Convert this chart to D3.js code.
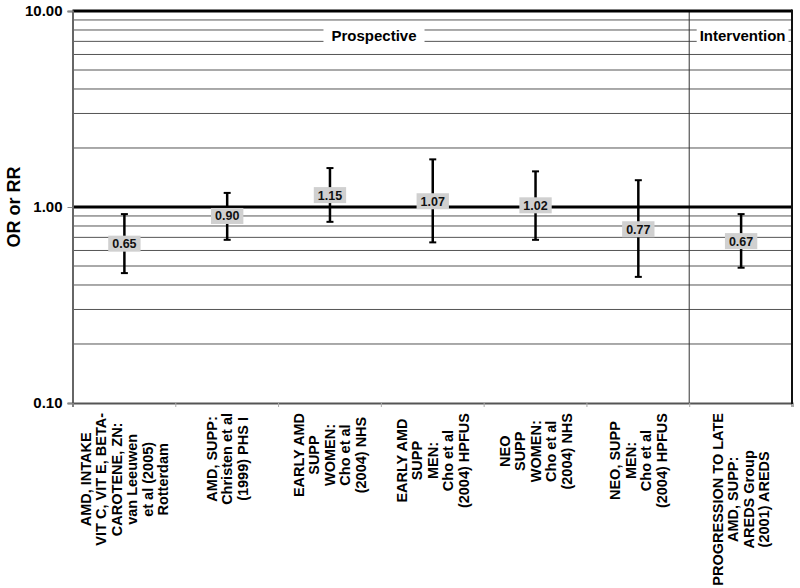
<!DOCTYPE html>
<html><head><meta charset="utf-8">
<script src="https://cdn.jsdelivr.net/npm/d3@7"></script>
<style>body{margin:0;background:#fff}svg{display:block}text{font-family:Arial,"Liberation Sans",sans-serif;font-weight:bold}</style>
</head><body><svg id="c" width="800" height="588"></svg>
<script>
const categories = [
  ["AMD, INTAKE","VIT C, VIT E, BETA-","CAROTENE, ZN:","van Leeuwen","et al (2005)","Rotterdam"],
  ["AMD, SUPP:","Christen et al","(1999) PHS I"],
  ["EARLY AMD","SUPP","WOMEN:","Cho et al","(2004) NHS"],
  ["EARLY AMD","SUPP","MEN:","Cho et al","(2004) HPFUS"],
  ["NEO","SUPP","WOMEN:","Cho et al","(2004) NHS"],
  ["NEO, SUPP","MEN:","Cho et al","(2004) HPFUS"],
  ["PROGRESSION TO LATE","AMD, SUPP:","AREDS Group","(2001) AREDS"]
];
const estimates = [0.65, 0.90, 1.15, 1.07, 1.02, 0.77, 0.67];
const upper = [0.92, 1.18, 1.58, 1.75, 1.52, 1.37, 0.92];
const lower = [0.46, 0.68, 0.84, 0.66, 0.68, 0.44, 0.49];
const yTicks = [0.1, 1, 10];
const minorGrid = [0.2,0.3,0.4,0.5,0.6,0.7,0.8,0.9,2,3,4,5,6,7,8,9];
const groups = [{name:"Prospective", from:0, to:6}, {name:"Intervention", from:6, to:7}];

const svg = d3.select("#c");
const L = 72.5, R = 792, T = 11, B = 403;
const x = d3.scaleBand().domain(d3.range(categories.length)).range([L, R]).padding(0);
const y = d3.scaleLog().domain([0.1, 10]).range([B, T]);

// minor grid
svg.append("g").selectAll("line").data(minorGrid).join("line")
  .attr("x1", L).attr("x2", R).attr("y1", d => y(d)).attr("y2", d => y(d))
  .attr("stroke", "#555").attr("stroke-width", 1);

// group separator
groups.slice(1).forEach(g => {
  svg.append("line").attr("x1", x(g.from)).attr("x2", x(g.from))
    .attr("y1", T).attr("y2", B).attr("stroke", "#333").attr("stroke-width", 1);
});

// group labels
groups.forEach((g, i) => {
  const cx = i === 0 ? 374 : (x(g.from) + R) / 2 + 2;
  const t = svg.append("text").attr("x", cx).attr("y", 41).attr("text-anchor", "middle")
    .attr("font-size", 15).text(g.name);
  const w = t.node().getComputedTextLength();
  const pad = i === 0 ? 8 : 3;
  svg.insert("rect", "text").attr("x", cx - w/2 - pad).attr("y", 25)
    .attr("width", w + 2*pad).attr("height", 22).attr("fill", "#fff");
});

// reference lines 1 and 10
[1, 10].forEach(v => svg.append("line").attr("x1", L).attr("x2", R)
  .attr("y1", y(v)).attr("y2", y(v)).attr("stroke", "#000").attr("stroke-width", 3.2));

// axes
const yAxis = svg.append("g").attr("transform", `translate(${L},0)`)
  .call(d3.axisLeft(y).tickValues(yTicks).tickFormat(d3.format(".2f")).tickSize(5).tickPadding(5));
yAxis.select(".domain").attr("stroke", "#666").attr("stroke-width", 2);
yAxis.selectAll(".tick line").attr("stroke", "#888");
yAxis.selectAll("text").attr("font-size", 15).attr("fill", "#000").attr("font-weight", "bold");

const xAxisScale = d3.scaleLinear().domain([0, categories.length]).range([L, R]);
const xAxis = svg.append("g").attr("transform", `translate(0,${B})`)
  .call(d3.axisBottom(xAxisScale).tickValues(d3.range(categories.length + 1)).tickSize(4).tickFormat(""));
xAxis.select(".domain").attr("stroke", "#555").attr("stroke-width", 2);
xAxis.selectAll(".tick line").attr("stroke", "#aaa");

// right border
svg.append("line").attr("x1", R).attr("x2", R).attr("y1", T - 1.5).attr("y2", B + 1)
  .attr("stroke", "#111").attr("stroke-width", 2);

// axis title
svg.append("text").attr("transform", `translate(20,${y(1)}) rotate(-90)`)
  .attr("text-anchor", "middle").attr("font-size", 18).text("OR or RR");

// error bars
const cxOf = i => x(i) + x.bandwidth() / 2 + 0.5;
const eb = svg.append("g");
estimates.forEach((v, i) => {
  const cx = cxOf(i);
  eb.append("line").attr("x1", cx).attr("x2", cx).attr("y1", y(upper[i])).attr("y2", y(lower[i]))
    .attr("stroke", "#000").attr("stroke-width", 2.5);
  [upper[i], lower[i]].forEach(b => eb.append("line").attr("x1", cx - 3.5).attr("x2", cx + 3.5)
    .attr("y1", y(b)).attr("y2", y(b)).attr("stroke", "#000").attr("stroke-width", 2));
  const g = eb.append("g");
  const t = g.append("text").attr("x", cx).attr("y", y(v) + 4.5).attr("text-anchor", "middle")
    .attr("font-size", 12.5).attr("fill", "#111").text(d3.format(".2f")(v));
  const w = t.node().getComputedTextLength();
  g.insert("rect", "text").attr("x", cx - w/2 - 4).attr("y", y(v) - 8)
    .attr("width", w + 8).attr("height", 16).attr("fill", "#d0d0d0");
});

// category labels
categories.forEach((lines, i) => {
  const cx = cxOf(i);
  const g = svg.append("g");
  const texts = lines.map((ln, k) => g.append("text").attr("font-size", 14.5).attr("text-anchor", "middle").text(ln));
  const maxW = d3.max(texts, t => t.node().getComputedTextLength());
  const lh = 15.5;
  const n = lines.length;
  const cy = 413 + maxW / 2;
  texts.forEach((t, k) => {
    const xl = cx + (k - (n - 1) / 2) * lh + 5;
    t.attr("transform", `translate(${xl},${cy}) rotate(-90)`);
  });
});
</script></body></html>
